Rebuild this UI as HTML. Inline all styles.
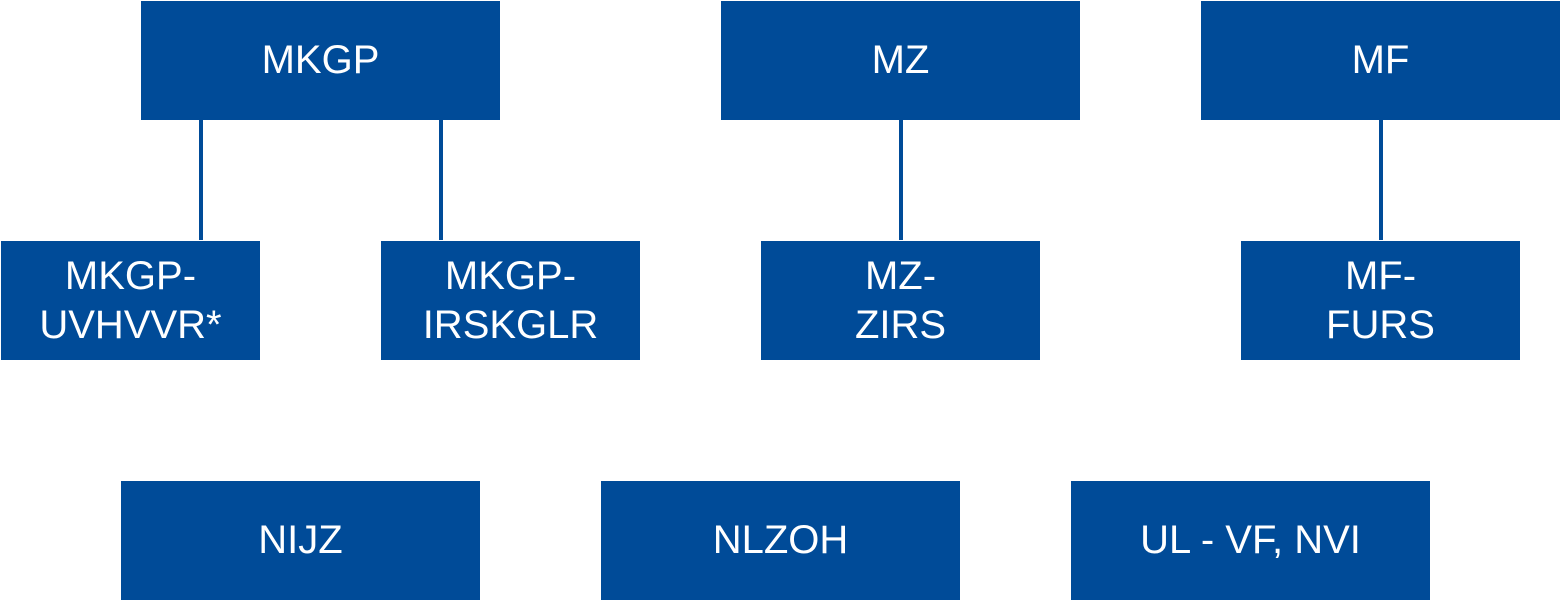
<!DOCTYPE html>
<html><head><style>
body{margin:0;width:1560px;height:600px;background:#fff;position:relative;overflow:hidden;font-family:"Liberation Sans",sans-serif}
.b{position:absolute;background:#004b98;color:#fff;font-size:40px;display:flex;align-items:center;justify-content:center;text-align:center;line-height:49px}
.l{position:absolute;background:#004b98;width:4px;top:120px;height:120px}
</style></head><body>
<div class="b" style="left:141px;top:1px;width:359px;height:119px">MKGP</div>
<div class="b" style="left:721px;top:1px;width:359px;height:119px">MZ</div>
<div class="b" style="left:1201px;top:1px;width:359px;height:119px">MF</div>
<div class="l" style="left:199px"></div>
<div class="l" style="left:439px"></div>
<div class="l" style="left:899px"></div>
<div class="l" style="left:1379px"></div>
<div class="b" style="left:1px;top:241px;width:259px;height:119px">MKGP-<br>UVHVVR*</div>
<div class="b" style="left:381px;top:241px;width:259px;height:119px">MKGP-<br>IRSKGLR</div>
<div class="b" style="left:761px;top:241px;width:279px;height:119px">MZ-<br>ZIRS</div>
<div class="b" style="left:1241px;top:241px;width:279px;height:119px">MF-<br>FURS</div>
<div class="b" style="left:121px;top:481px;width:359px;height:119px">NIJZ</div>
<div class="b" style="left:601px;top:481px;width:359px;height:119px">NLZOH</div>
<div class="b" style="left:1071px;top:481px;width:359px;height:119px">UL - VF, NVI</div>
</body></html>
